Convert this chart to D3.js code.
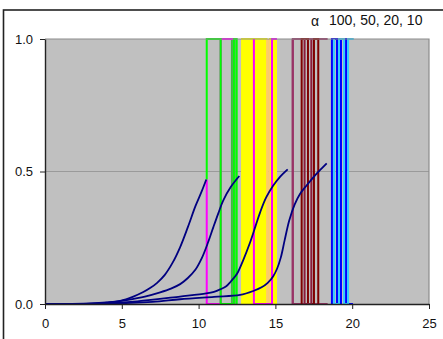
<!DOCTYPE html>
<html>
<head>
<meta charset="utf-8">
<script src="https://cdn.jsdelivr.net/npm/d3@7"></script>
<style>
  body { margin: 0; background: #fff; }
  svg { display: block; font-family: "Liberation Sans", Arial, sans-serif; }
</style>
</head>
<body>
<div id="chart"></div>
<script>
// axis ticks and title
const xTicks = [0, 5, 10, 15, 20, 25];
const yTicks = [0, 0.5, 1];
const titleSymbol = "α";
const titleText = "100, 50, 20, 10";

// navy growth curves, [x, y], one per population size
const curve100 = [[0,0],[2.5,0.001],[4,0.006],[4.9,0.012],[5.75,0.028],[6.4,0.045],[6.84,0.06],[7.3,0.08],[7.8,0.11],[8.3,0.155],[8.8,0.215],[9.3,0.29],[9.8,0.37],[10.2,0.425],[10.5,0.47]];
const curve50 = [[0,0],[3,0.001],[4.5,0.008],[5.32,0.015],[6.5,0.028],[7.5,0.044],[8.2,0.058],[8.8,0.075],[9.3,0.098],[9.8,0.13],[10.2,0.172],[10.6,0.23],[10.96,0.29],[11.3,0.345],[11.6,0.39],[12.1,0.442],[12.65,0.483]];
const curve20 = [[0,0],[3.5,0.001],[6,0.01],[8.79,0.028],[10.5,0.04],[11.0,0.046],[11.4,0.055],[11.8,0.067],[12.1,0.085],[12.48,0.112],[12.9,0.165],[13.35,0.232],[13.7,0.293],[14.0,0.345],[14.4,0.402],[14.86,0.447],[15.3,0.48],[15.8,0.508]];
const curve10 = [[0,0],[4,0.001],[7,0.008],[8.79,0.018],[11,0.027],[12.7,0.034],[13.6,0.05],[14.1,0.063],[14.5,0.08],[14.85,0.104],[15.1,0.132],[15.35,0.175],[15.6,0.24],[15.9,0.315],[16.25,0.375],[16.6,0.415],[17.04,0.448],[17.47,0.478],[17.9,0.505],[18.34,0.531]];

// x positions where each 0/1 run flips
const greenB = [11.44, 12.17, 12.35];
const magentaA = [10.53, 11.44, 12.3];
const greenA = [10.53, 11.44, 12.3, 12.48];
const yellowA = [12.83, 12.92, 13.03, 13.12, 13.24, 13.33, 13.44, 13.52, 13.64, 13.73, 13.84, 13.92, 14.04, 14.12, 14.25, 14.35, 14.65, 14.91, 15.04];
const yellowB = [12.87, 12.98, 13.08, 13.18, 13.29, 13.39, 13.48, 13.58, 13.69, 13.79, 13.88, 13.98, 14.08, 14.19, 14.3, 14.42];
const orangeA = [14.46, 14.6];
const magentaB = [13.6, 14.78];
const purpleA = [16.13];
const darkRedA = [16.71, 17.12, 17.51, 17.79];
const darkRedB = [16.9, 17.34];
const blueA = [18.68, 19.01, 19.27, 19.6];
const cyanA = [18.82, 19.14, 19.47, 19.73];

// turn flip positions into a step path
function steps(y0, first, xs, tail) {
  const pts = [[xs[0], y0]];
  let lvl = first;
  pts.push([xs[0], lvl]);
  xs.slice(1).forEach(x => {
    pts.push([x, lvl]);
    lvl = 1 - lvl;
    pts.push([x, lvl]);
  });
  if (tail != null) pts.push([tail, lvl]);
  return pts;
}

const stepSeries = [
  { pts: steps(0, 1, greenB), color: "#3dbe3d" },
  { pts: steps(0.47, 0, magentaA), color: "#ff00ff" },
  { pts: steps(0.47, 1, greenA), color: "#00ff00" },
  { pts: steps(0, 1, yellowA), color: "#ffff00" },
  { pts: steps(0, 1, yellowB), color: "#ffff00" },
  { pts: steps(1, 0, orangeA), color: "#ffcc66" },
  { pts: steps(1, 0, magentaB, 15.1), color: "#ff00ff" },
  { pts: steps(0, 1, purpleA, 18.4), color: "#993366" },
  { pts: steps(1, 0, purpleA, 18.4), color: "#993366" },
  { pts: steps(0, 1, darkRedA), color: "#800000" },
  { pts: steps(1, 0, darkRedB), color: "#8b1a3a" },
  { pts: steps(0, 1, blueA, 20.05), color: "#0000ff" },
  { pts: steps(1, 0, cyanA, 20.1), color: "#33ccff" }
];

const width = 443;
const height = 339;
const margin = { top: 39, right: 14, bottom: 35, left: 45 };

d3.select("#chart").selectAll("*").remove();

const svg = d3.select("#chart")
  .append("svg")
  .attr("width", width)
  .attr("height", height);

// outer frame
svg.append("rect")
  .attr("x", 3.5).attr("y", 10)
  .attr("width", width + 10).attr("height", height + 10)
  .attr("fill", "#fff")
  .attr("stroke", "#222")
  .attr("stroke-width", 1.6);

const x = d3.scaleLinear()
  .domain([0, 25])
  .range([margin.left, width - margin.right]);

const y = d3.scaleLinear()
  .domain([0, 1])
  .range([height - margin.bottom, margin.top]);

// plot area
svg.append("rect")
  .attr("x", x(0)).attr("y", y(1))
  .attr("width", x(25) - x(0)).attr("height", y(0) - y(1))
  .attr("fill", "#c0c0c0");

svg.append("g")
  .selectAll("line")
  .data([0.5])
  .join("line")
  .attr("x1", x(0)).attr("x2", x(25))
  .attr("y1", d => y(d)).attr("y2", d => y(d))
  .attr("stroke", "#9a9a9a")
  .attr("stroke-width", 1);

const stepLine = d3.line()
  .x(d => x(d[0]))
  .y(d => y(d[1]));

svg.append("g")
  .selectAll("path")
  .data(stepSeries)
  .join("path")
  .attr("d", d => stepLine(d.pts))
  .attr("fill", "none")
  .attr("stroke", d => d.color)
  .attr("stroke-width", 2);

// top and right border of the plot
svg.append("path")
  .attr("d", `M${x(0)},${y(1)}H${x(25)}V${y(0)}`)
  .attr("fill", "none")
  .attr("stroke", "#8c8c8c")
  .attr("stroke-width", 1.2);

const curveLine = d3.line()
  .x(d => x(d[0]))
  .y(d => y(d[1]))
  .curve(d3.curveCatmullRom.alpha(0.5));

svg.append("g")
  .selectAll("path")
  .data([curve100, curve50, curve20, curve10])
  .join("path")
  .attr("d", curveLine)
  .attr("fill", "none")
  .attr("stroke", "#000080")
  .attr("stroke-width", 1.8);

// axes
const xAxis = svg.append("g")
  .attr("transform", `translate(0,${y(0)})`)
  .call(d3.axisBottom(x).tickValues(xTicks).tickSize(5).tickSizeOuter(0).tickPadding(10));

const yAxis = svg.append("g")
  .attr("transform", `translate(${x(0)},0)`)
  .call(d3.axisLeft(y).tickValues(yTicks).tickFormat(d3.format(".1f")).tickSize(5).tickSizeOuter(0).tickPadding(7));

[xAxis, yAxis].forEach(g => {
  g.selectAll("text").attr("font-size", 13).attr("fill", "#111")
    .attr("font-family", "'Liberation Sans', Arial, sans-serif");
  g.selectAll("line").attr("stroke", "#222");
  g.select(".domain").attr("stroke", "#222").attr("stroke-width", 1.4);
});

// title
svg.append("text")
  .attr("x", 311).attr("y", 26)
  .attr("font-size", 14)
  .attr("fill", "#111")
  .text(titleSymbol);

svg.append("text")
  .attr("x", 329).attr("y", 25)
  .attr("font-size", 14)
  .attr("fill", "#111")
  .text(titleText);
</script>
</body>
</html>
